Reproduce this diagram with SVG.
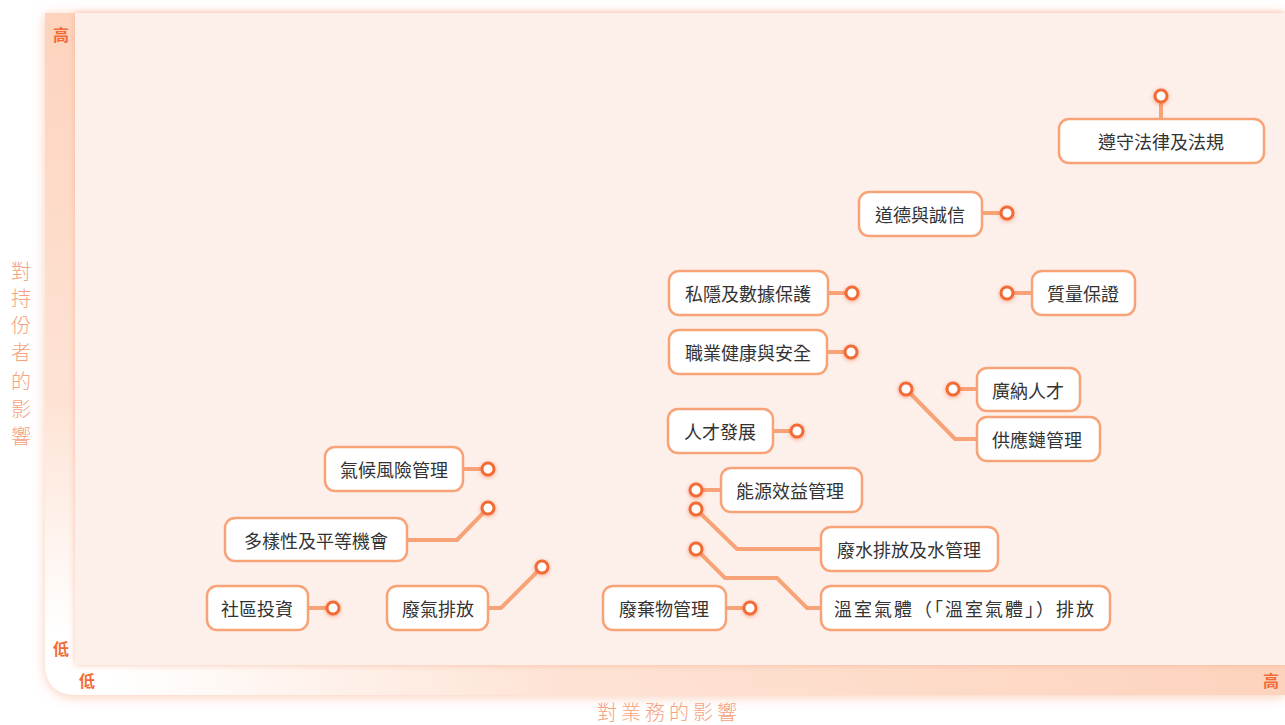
<svg xmlns="http://www.w3.org/2000/svg" width="1285" height="725" viewBox="0 0 1285 725">
<defs>
<linearGradient id="gl" x1="0" y1="0" x2="0" y2="1"><stop offset="0" stop-color="#fdd3bd"/><stop offset="0.6" stop-color="#fee3d5"/><stop offset="0.95" stop-color="#ffffff"/></linearGradient>
<linearGradient id="gb" x1="0" y1="0" x2="1" y2="0"><stop offset="0.03" stop-color="#ffffff"/><stop offset="0.4" stop-color="#fee3d5"/><stop offset="1" stop-color="#fdd3bd"/></linearGradient>
<filter id="outer" x="-10%" y="-10%" width="120%" height="120%"><feDropShadow dx="0" dy="2" stdDeviation="6" flood-color="#f7a37c" flood-opacity="0.55"/></filter>
<filter id="inner" x="-5%" y="-5%" width="110%" height="110%"><feDropShadow dx="0" dy="0" stdDeviation="3" flood-color="#f3a07c" flood-opacity="0.6"/></filter>
<filter id="glow" x="-100%" y="-100%" width="300%" height="300%"><feDropShadow dx="0" dy="1" stdDeviation="2" flood-color="#f26b3a" flood-opacity="0.6"/></filter>
<style>
.box{fill:#fff;stroke:#f8a377;stroke-width:2.5}
.lbl{font-family:"Noto Sans CJK TC","Noto Sans CJK SC",sans-serif;font-size:18px;fill:#333;text-anchor:middle;dominant-baseline:central}
.dot{fill:#fff;stroke:#f26b35;stroke-width:3;filter:url(#glow)}
.con{fill:none;stroke:#f8a377;stroke-width:4;stroke-linejoin:miter}
.ax{font-family:"Noto Sans CJK TC","Noto Sans CJK SC",sans-serif;font-size:16px;font-weight:bold;fill:#f26b35;text-anchor:middle;dominant-baseline:central}
.axt{font-family:"Noto Sans CJK TC","Noto Sans CJK SC",sans-serif;font-size:20px;font-weight:300;fill:#f4a27e;text-anchor:middle;dominant-baseline:central}
</style>
</defs>
<g id="frame">
<path d="M45,13 H1285 V695 H77 Q45,695 45,663 Z" fill="#fff" filter="url(#outer)"/>
<path d="M45,13 H75 V665 H45 Z" fill="url(#gl)"/>
<path d="M75,665 H1285 V695 H75 Z" fill="url(#gb)"/>
<rect x="75" y="13" width="1210" height="652" fill="#fdf0ea" filter="url(#inner)"/>
<rect x="75" y="13" width="1210" height="652" fill="#fdf0ea"/>
<text class="ax" x="61" y="34">高</text>
<text class="ax" x="61" y="648">低</text>
<text class="ax" x="87" y="680">低</text>
<text class="ax" x="1271" y="680">高</text>
<g class="axt">
<text x="21" y="270">對</text><text x="21" y="297">持</text><text x="21" y="324">份</text><text x="21" y="351">者</text><text x="21" y="380">的</text><text x="21" y="408">影</text><text x="21" y="435">響</text>
</g>
<text class="axt" x="669" y="711" letter-spacing="4">對業務的影響</text>
</g>
<g id="connectors">
<path class="con" d="M1161,102 V119"/>
<path class="con" d="M982,213 H1001"/>
<path class="con" d="M828,293 H846"/>
<path class="con" d="M1013,293 H1032"/>
<path class="con" d="M828,352 H845"/>
<path class="con" d="M959,389 H977"/>
<path class="con" d="M906,389 L955,439 H977"/>
<path class="con" d="M773,431 H791"/>
<path class="con" d="M463,469 H482"/>
<path class="con" d="M407,540 H457 L488,508"/>
<path class="con" d="M308,608 H327"/>
<path class="con" d="M488,608 H501 L542,567"/>
<path class="con" d="M726,608 H744"/>
<path class="con" d="M702,490 H721"/>
<path class="con" d="M696,509 L737,549 H821"/>
<path class="con" d="M696,549 L725,578 H777 L807,608 H821"/>
</g>
<g id="n1"><rect class="box" x="1059" y="119" width="205" height="44" rx="10"/><text class="lbl" x="1161" y="141">遵守法律及法規</text><circle class="dot" cx="1161" cy="96" r="6"/></g>
<g id="n2"><rect class="box" x="859" y="192" width="123" height="44" rx="10"/><text class="lbl" x="920" y="214">道德與誠信</text><circle class="dot" cx="1007" cy="213" r="6"/></g>
<g id="n3"><rect class="box" x="669" y="271" width="159" height="44" rx="10"/><text class="lbl" x="748" y="293">私隱及數據保護</text><circle class="dot" cx="852" cy="293" r="6"/></g>
<g id="n4"><rect class="box" x="1032" y="271" width="103" height="44" rx="10"/><text class="lbl" x="1083" y="293">質量保證</text><circle class="dot" cx="1007" cy="293" r="6"/></g>
<g id="n5"><rect class="box" x="669" y="330" width="158" height="44" rx="10"/><text class="lbl" x="748" y="352">職業健康與安全</text><circle class="dot" cx="851" cy="352" r="6"/></g>
<g id="n6"><rect class="box" x="977" y="368" width="103" height="43" rx="10"/><text class="lbl" x="1028" y="390">廣納人才</text><circle class="dot" cx="953" cy="389" r="6"/></g>
<g id="n7"><rect class="box" x="977" y="417" width="123" height="44" rx="10"/><text class="lbl" x="1037" y="439">供應鏈管理</text><circle class="dot" cx="906" cy="389" r="6"/></g>
<g id="n8"><rect class="box" x="668" y="409" width="105" height="44" rx="10"/><text class="lbl" x="720" y="431">人才發展</text><circle class="dot" cx="797" cy="431" r="6"/></g>
<g id="n9"><rect class="box" x="325" y="447" width="138" height="44" rx="10"/><text class="lbl" x="394" y="469">氣候風險管理</text><circle class="dot" cx="488" cy="469" r="6"/></g>
<g id="n10"><rect class="box" x="225" y="518" width="182" height="43" rx="10"/><text class="lbl" x="316" y="540">多樣性及平等機會</text><circle class="dot" cx="488" cy="508" r="6"/></g>
<g id="n11"><rect class="box" x="207" y="586" width="101" height="44" rx="10"/><text class="lbl" x="257" y="608">社區投資</text><circle class="dot" cx="333" cy="608" r="6"/></g>
<g id="n12"><rect class="box" x="387" y="586" width="101" height="44" rx="10"/><text class="lbl" x="438" y="608">廢氣排放</text><circle class="dot" cx="542" cy="567" r="6"/></g>
<g id="n13"><rect class="box" x="603" y="586" width="123" height="44" rx="10"/><text class="lbl" x="664" y="608">廢棄物管理</text><circle class="dot" cx="750" cy="608" r="6"/></g>
<g id="n14"><rect class="box" x="721" y="468" width="141" height="44" rx="10"/><text class="lbl" x="790" y="490">能源效益管理</text><circle class="dot" cx="696" cy="490" r="6"/></g>
<g id="n15"><rect class="box" x="821" y="527" width="177" height="44" rx="10"/><text class="lbl" x="909" y="549">廢水排放及水管理</text><circle class="dot" cx="696" cy="509" r="6"/></g>
<g id="n16"><rect class="box" x="821" y="586" width="289" height="44" rx="10"/><text class="lbl" x="964" y="608" textLength="260" lengthAdjust="spacing">溫室氣體（「溫室氣體」）排放</text><circle class="dot" cx="696" cy="549" r="6"/></g>
</svg>
